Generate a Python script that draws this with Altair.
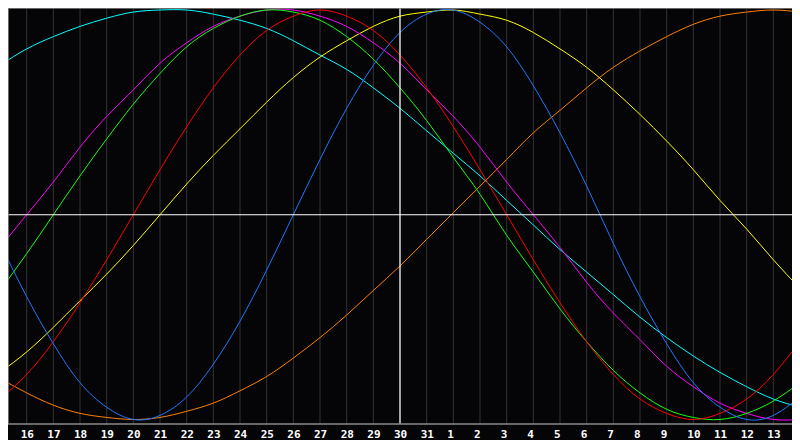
import altair as alt
import pandas as pd

# day index 0..30 (index 0 = the 15th)
days = list(range(31))
tick_pos = list(range(1, 30))
tick_labels = ["16", "17", "18", "19", "20", "21", "22", "23", "24", "25", "26", "27", "28",
               "29", "30", "31", "1", "2", "3", "4", "5", "6", "7", "8", "9", "10", "11",
               "12", "13"]

physical = [-0.14, -0.40, -0.63, -0.82, -0.94, -1.00, -0.98, -0.89, -0.73, -0.52, -0.27, 0.00,
            0.27, 0.52, 0.73, 0.89, 0.98, 1.00, 0.94, 0.82, 0.63, 0.40, 0.14, -0.14, -0.40,
            -0.63, -0.82, -0.94, -1.00, -0.98, -0.89]
emotional = [-0.90, -0.78, -0.62, -0.43, -0.22, 0.00, 0.22, 0.43, 0.62, 0.78, 0.90, 0.97, 1.00,
             0.97, 0.90, 0.78, 0.62, 0.43, 0.22, 0.00, -0.22, -0.43, -0.62, -0.78, -0.90, -0.97,
             -1.00, -0.97, -0.90, -0.78, -0.62]
intellectual = [-0.37, -0.19, 0.00, 0.19, 0.37, 0.54, 0.69, 0.82, 0.91, 0.97, 1.00, 0.99, 0.95,
                0.87, 0.76, 0.62, 0.46, 0.28, 0.10, -0.10, -0.28, -0.46, -0.62, -0.76, -0.87,
                -0.95, -0.99, -1.00, -0.97, -0.91, -0.82]
intuitive = [-0.16, 0.00, 0.16, 0.33, 0.48, 0.61, 0.74, 0.84, 0.92, 0.97, 1.00, 1.00, 0.97, 0.92,
             0.84, 0.74, 0.61, 0.48, 0.33, 0.16, 0.00, -0.16, -0.33, -0.48, -0.61, -0.74, -0.84,
             -0.92, -0.97, -1.00, -1.00]
aesthetic = [-0.77, -0.67, -0.55, -0.42, -0.29, -0.15, 0.00, 0.15, 0.29, 0.42, 0.55, 0.67, 0.77,
             0.85, 0.92, 0.97, 0.99, 1.00, 0.98, 0.95, 0.89, 0.81, 0.72, 0.61, 0.49, 0.36, 0.22,
             0.07, -0.07, -0.22, -0.36]
awareness = [-0.80, -0.87, -0.93, -0.97, -0.99, -1.00, -0.99, -0.96, -0.92, -0.86, -0.79, -0.70,
             -0.60, -0.49, -0.37, -0.25, -0.12, 0.01, 0.14, 0.27, 0.40, 0.51, 0.62, 0.72, 0.80,
             0.87, 0.93, 0.97, 0.99, 1.00, 0.99]
spiritual = [0.73, 0.81, 0.87, 0.92, 0.96, 0.99, 1.00, 1.00, 0.98, 0.95, 0.91, 0.85, 0.78, 0.71,
             0.62, 0.52, 0.41, 0.30, 0.19, 0.07, -0.05, -0.17, -0.28, -0.39, -0.50, -0.60, -0.69,
             -0.77, -0.84, -0.90, -0.94]

series_names = ["spiritual", "awareness", "aesthetic", "intuitive", "intellectual", "emotional", "physical"]
series_values = [spiritual, awareness, aesthetic, intuitive, intellectual, emotional, physical]
series_colors = ["#00ffff", "#ff8000", "#ffff00", "#ff00ff", "#11ff11", "#ff0000", "#1e78ff"]

rows = []
for name, vals in zip(series_names, series_values):
    for d, v in zip(days, vals):
        rows.append({"u": d, "v": v, "series": name})
df = pd.DataFrame(rows)

BG = "#050508"
X0, X1 = 0.3, 29.7
Y0, Y1 = -1.022, 1.0098
xscale = alt.Scale(domain=[X0, X1], nice=False, zero=False)
yscale = alt.Scale(domain=[Y0, Y1], nice=False, zero=False)

grid = alt.Chart(pd.DataFrame({"u": tick_pos})).mark_rule(color="#343434", strokeWidth=1).encode(
    x=alt.X("u:Q", scale=xscale, axis=None)
)
vline = alt.Chart(pd.DataFrame({"u": [15]})).mark_rule(color="white", strokeWidth=1.2).encode(
    x=alt.X("u:Q", scale=xscale, axis=None)
)
hline = alt.Chart(pd.DataFrame({"v": [0]})).mark_rule(color="white", strokeWidth=1.2).encode(
    y=alt.Y("v:Q", scale=yscale, axis=None)
)
frame_h = alt.Chart(pd.DataFrame({"v": [Y0, Y1]})).mark_rule(
    color="#8a8a8a", strokeWidth=1.5).encode(y=alt.Y("v:Q", scale=yscale, axis=None))
frame_v = alt.Chart(pd.DataFrame({"u": [X0]})).mark_rule(color="#8a8a8a", strokeWidth=1.5).encode(
    x=alt.X("u:Q", scale=xscale, axis=None)
)

lines = alt.Chart(df).mark_line(strokeWidth=1, interpolate="natural", clip=True).encode(
    x=alt.X("u:Q", scale=xscale, axis=None),
    y=alt.Y("v:Q", scale=yscale, axis=None),
    color=alt.Color("series:N", scale=alt.Scale(domain=series_names, range=series_colors), legend=None),
)

labels = alt.Chart(pd.DataFrame({"u": tick_pos, "label": tick_labels})).mark_text(
    align="left", dx=-6, baseline="alphabetic", font="DejaVu Sans Mono", fontWeight="bold",
    fontSize=11, color="white"
).encode(
    x=alt.X("u:Q", scale=xscale, axis=None),
    y=alt.value(430),
    text="label:N",
)

chart = alt.layer(grid, lines, vline, hline, frame_h, frame_v, labels).properties(
    width=784,
    height=416,
    padding={"left": 0, "top": 0, "right": 0, "bottom": 16},
    autosize=alt.AutoSizeParams(type="none"),
    background=BG,
).configure_view(strokeWidth=0)

chart.save("out.html", embed_options={"renderer": "svg", "actions": False})
